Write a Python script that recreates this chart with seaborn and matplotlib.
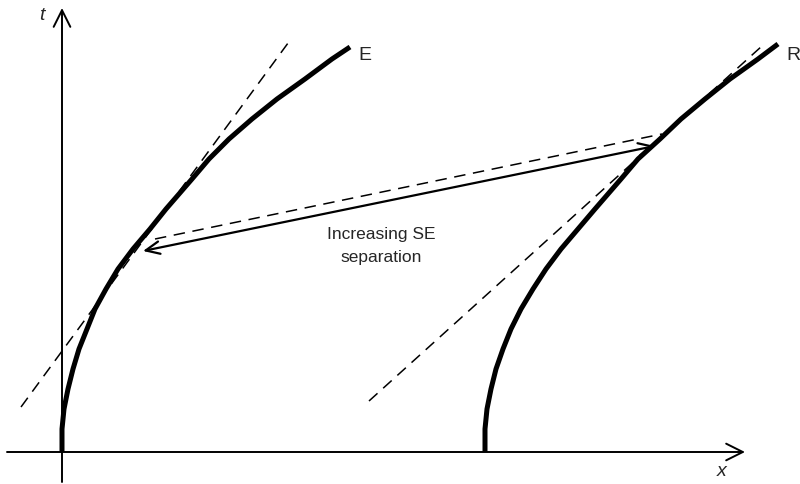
import matplotlib
matplotlib.use("Agg")
import matplotlib.pyplot as plt
import seaborn as sns
import numpy as np
import pandas as pd

# worldlines (x, t)
e_x = [0, 0, 2, 6, 11, 17, 25, 33, 44, 56, 71, 88, 104, 130, 147, 167, 190,
       215, 243, 270, 288]
e_t = [0, 23, 43, 63, 83, 103, 123, 143, 163, 183, 203, 223, 243, 273, 293,
       313, 333, 353, 373, 393, 405]
r_x = [423, 423, 425, 429, 434, 441, 449, 459, 471, 484, 499, 516, 533, 559,
       576, 598, 619, 643, 668, 696, 716]
r_t = [0, 23, 43, 63, 83, 103, 123, 143, 163, 183, 203, 223, 243, 273, 293,
       313, 333, 353, 373, 393, 408]

# dashed tangent / light-like lines
tan_e_x = [-41, 229]
tan_e_t = [45, 413]
tan_r_x = [307, 700]
tan_r_t = [51, 406]
sep_dash_x = [93, 600]
sep_dash_t = [213, 318]

# separation arrow, E end -> R end
sep_x = [81, 593]
sep_t = [201, 306]

curve_labels = ["E", "R"]
axis_labels = ["t", "x"]
sep_label = "Increasing SE\nseparation"

sns.set_style("white")
plt.rcParams["font.family"] = ["Liberation Sans", "DejaVu Sans"]

fig = plt.figure(figsize=(8, 4.85), dpi=100)
ax = fig.add_axes([0, 0, 1, 1])
ax.set_xlim(-62, 738)
ax.set_ylim(-32, 453)
ax.axis("off")

worldlines = pd.concat([
    pd.DataFrame({"x": e_x, "t": e_t, "body": curve_labels[0]}),
    pd.DataFrame({"x": r_x, "t": r_t, "body": curve_labels[1]}),
])
sns.lineplot(data=worldlines, x="x", y="t", units="body", estimator=None,
             sort=False, color="black", lw=3.6, ax=ax, solid_capstyle="butt",
             solid_joinstyle="round")

for xs, ts in [(tan_e_x, tan_e_t), (tan_r_x, tan_r_t), (sep_dash_x, sep_dash_t)]:
    ax.plot(xs, ts, color="black", lw=1.1, dashes=(7.5, 5))

# axes with open arrow heads
ax.annotate("", xy=(0, 444), xytext=(0, -30),
            arrowprops=dict(arrowstyle="->,head_length=1.2,head_width=0.6",
                            lw=1.4, color="black", shrinkA=0, shrinkB=0))
ax.annotate("", xy=(683, 0), xytext=(-55, 0),
            arrowprops=dict(arrowstyle="->,head_length=1.2,head_width=0.6",
                            lw=1.4, color="black", shrinkA=0, shrinkB=0))

# separation arrow
ax.annotate("", xy=(sep_x[0], sep_t[0]), xytext=(sep_x[1], sep_t[1]),
            arrowprops=dict(arrowstyle="<->,head_length=1.0,head_width=0.45",
                            lw=1.6, color="black", shrinkA=0, shrinkB=0))

ax.text(319, 207, sep_label, ha="center", va="center", fontsize=12.5,
        linespacing=1.6)
ax.text(303, 398, curve_labels[0], ha="center", va="center", fontsize=14)
ax.text(731, 398, curve_labels[1], ha="center", va="center", fontsize=14)
ax.text(-20, 438, axis_labels[0], ha="center", va="center", fontsize=14,
        style="italic")
ax.text(660, -19, axis_labels[1], ha="center", va="center", fontsize=14,
        style="italic")

fig.savefig("out.png", dpi=100, facecolor="white")
